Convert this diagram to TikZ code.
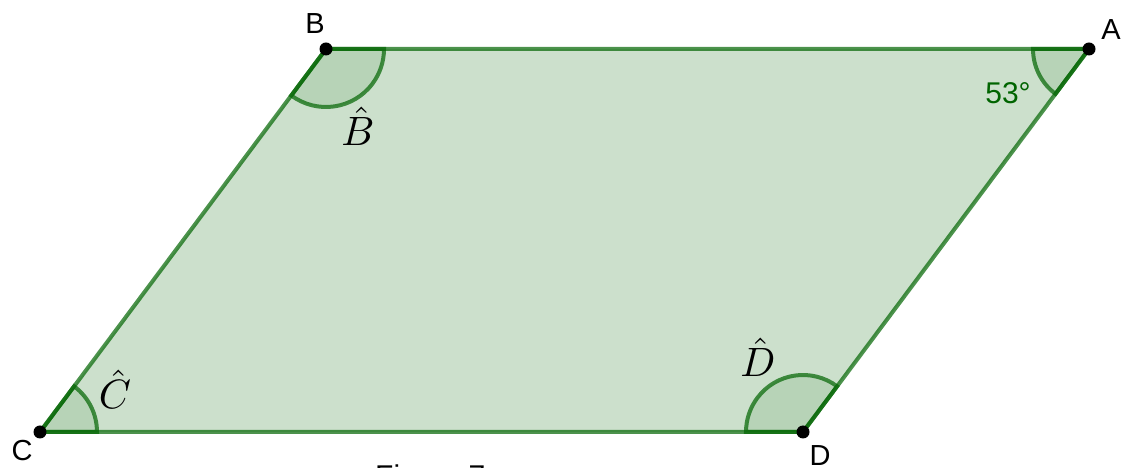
\documentclass[tikz,border=0pt]{standalone}
\usepackage{fontspec}
\newfontfamily\lab{Liberation Sans}
\definecolor{gg}{RGB}{0,100,0}
\tikzset{
  poly/.style={fill=gg, fill opacity=0.2, draw=gg, draw opacity=0.7, line width=4pt, line join=round},
  sector/.style={fill=gg, fill opacity=0.1, draw=gg, draw opacity=0.7, line width=4pt},
  vtx/.style={circle, fill=black, inner sep=0pt, minimum size=13pt},
  lbl/.style={font=\lab\fontsize{29}{29}\selectfont, inner sep=0pt},
  angval/.style={font=\lab\fontsize{30}{30}\selectfont, inner sep=0pt, text=gg},
  anglbl/.style={inner sep=0pt, anchor=base, scale=4.1},
}
\begin{document}
\begin{tikzpicture}[x=1pt,y=1pt]
\useasboundingbox (0,0) rectangle (1122,468);
\coordinate (C) at (40,36);
\coordinate (D) at (803,36);
\coordinate (B) at (326,419);
\coordinate (A) at (1089,419);
\path[poly] (A) -- (B) -- (C) -- (D) -- cycle;
\path[sector] (C) -- ++(0:57) arc[start angle=0, end angle=53.25, radius=57] -- cycle;
\path[sector] (B) -- ++(233.25:58) arc[start angle=233.25, end angle=360, radius=58] -- cycle;
\path[sector] (A) -- ++(180:56) arc[start angle=180, end angle=233.25, radius=56] -- cycle;
\path[sector] (D) -- ++(53.25:57) arc[start angle=53.25, end angle=180, radius=57] -- cycle;
\node[vtx] (nA) at (A) {};
\node[vtx] (nB) at (B) {};
\node[vtx] (nC) at (C) {};
\node[vtx] (nD) at (D) {};
\node[lbl] (lB) at (315,444) {B};
\node[lbl] (lA) at (1111,438) {A};
\node[lbl] (lC) at (22,17) {C};
\node[lbl] (lD) at (820,12) {D};
\node[angval] (a53) at (1008,375) {53°};
\node[anglbl] (hB) at (358,322) {$\hat{B}$};
\node[anglbl] (hC) at (115,59) {$\hat{C}$};
\node[anglbl] (hD) at (758,91) {$\hat{D}$};
\node[font=\lab\fontsize{30}{30}\selectfont, inner sep=0pt, anchor=base west] (cap) at (375,-19) {Figure 7};
\end{tikzpicture}
\end{document}
